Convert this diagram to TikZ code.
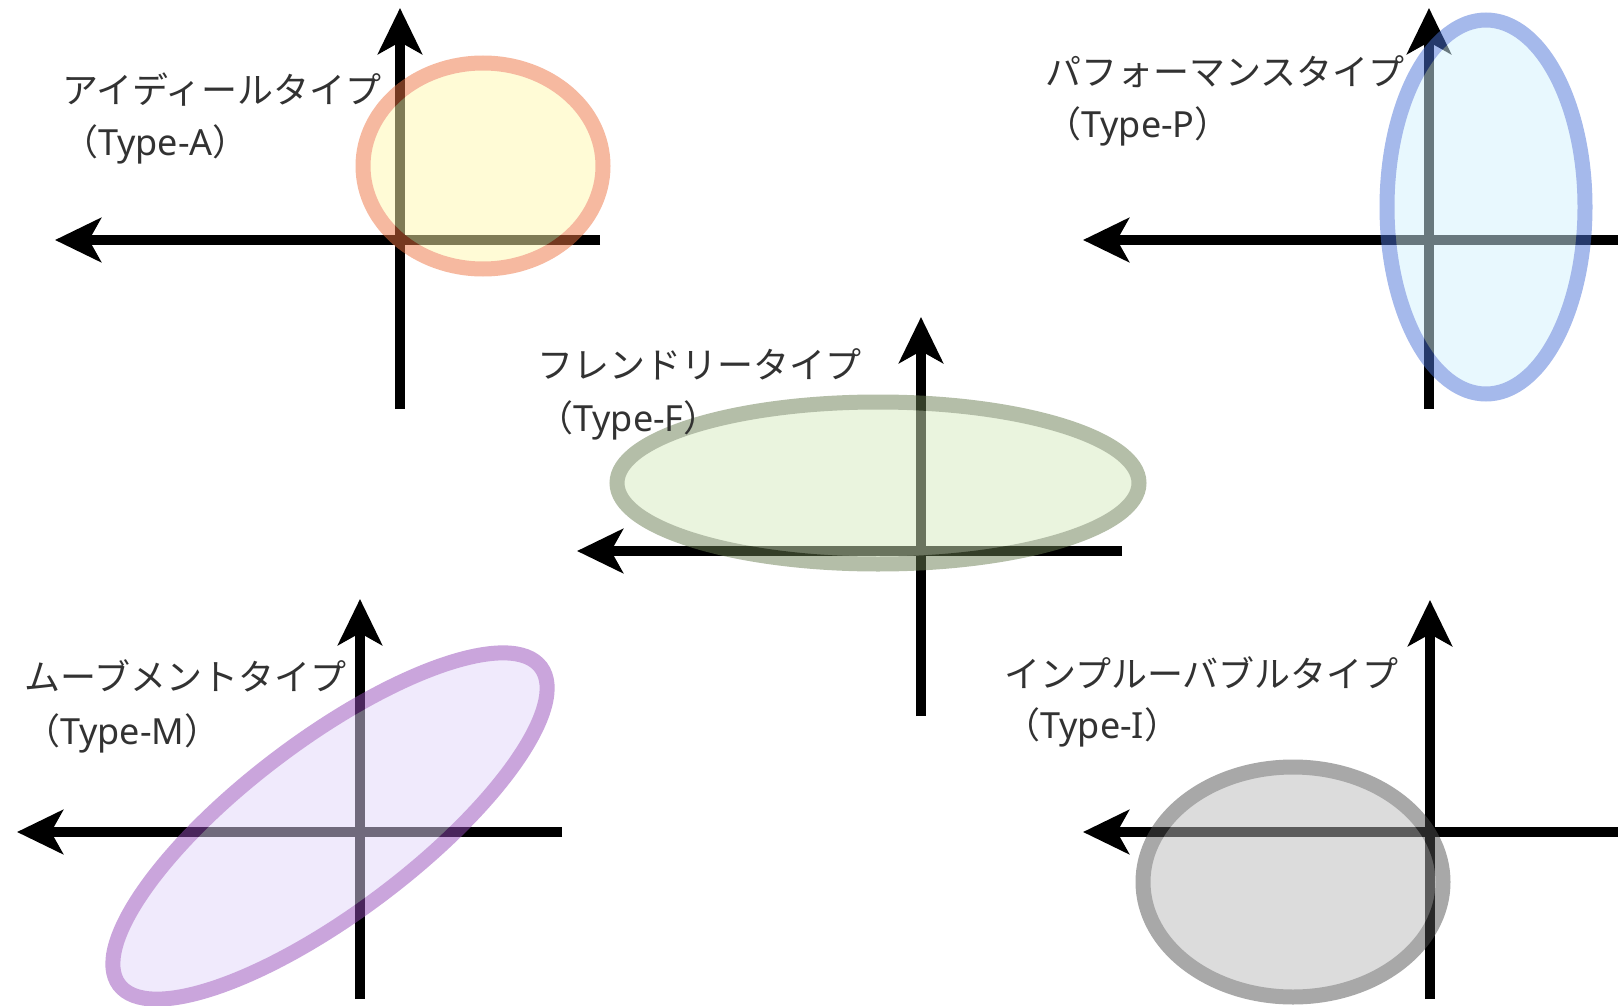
\documentclass[tikz,border=0pt]{standalone}
\usepackage{fontspec}
\newfontfamily\jpfont{Noto Sans CJK JP}
\newfontfamily\latinfont{Noto Sans}
\usetikzlibrary{arrows.meta}

% ring colours (drawn at half opacity)
\definecolor{ringA}{RGB}{237,115,65}
\definecolor{fillA}{RGB}{255,247,173}
\definecolor{ringP}{RGB}{75,115,215}
\definecolor{fillP}{RGB}{209,241,253}
\definecolor{ringF}{RGB}{105,125,81}
\definecolor{fillF}{RGB}{213,233,189}
\definecolor{ringM}{RGB}{149,75,185}
\definecolor{fillM}{RGB}{225,213,249}
\definecolor{ringI}{RGB}{81,81,81}
\definecolor{fillI}{RGB}{185,185,185}
\definecolor{labeltext}{RGB}{50,50,50}

\newcommand{\typecode}[1]{（{\latinfont Type-#1}）}

\tikzset{
  axisline/.style={line width=10pt, black, -{Stealth[length=46pt,width=44pt,inset=12pt]}},
  zone/.style={line width=15pt},
  lbl/.style={anchor=west, inner sep=0pt, text=labeltext, font=\jpfont\fontsize{36}{42}\selectfont},
}

\begin{document}
\begin{tikzpicture}[x=1pt,y=-1pt]
\useasboundingbox (0,0) rectangle (1618,1006);

% ---------- axes ----------
% Type-A
\coordinate (a-top) at (400,8);   \coordinate (a-bot) at (400,409);
\coordinate (a-left) at (55,240); \coordinate (a-right) at (600,240);
% Type-P
\coordinate (p-top) at (1429,8);   \coordinate (p-bot) at (1429,409);
\coordinate (p-left) at (1083,240); \coordinate (p-right) at (1618,240);
% Type-F
\coordinate (f-top) at (921,317);   \coordinate (f-bot) at (921,716);
\coordinate (f-left) at (577,551); \coordinate (f-right) at (1122,551);
% Type-M
\coordinate (m-top) at (360,599);   \coordinate (m-bot) at (360,999);
\coordinate (m-left) at (17,832); \coordinate (m-right) at (562,832);
% Type-I
\coordinate (i-top) at (1430,600);   \coordinate (i-bot) at (1430,999);
\coordinate (i-left) at (1083,832); \coordinate (i-right) at (1618,832);

\foreach \p in {a,p,f,m,i}{
  \draw[axisline] (\p-bot) -- (\p-top);
  \draw[axisline] (\p-right) -- (\p-left);
}

% ---------- type regions ----------
\begin{scope}[transparency group, opacity=0.5]
  \draw[zone, draw=ringA, fill=fillA] (483,166) ellipse [x radius=120, y radius=103];
\end{scope}
\begin{scope}[transparency group, opacity=0.5]
  \draw[zone, draw=ringP, fill=fillP] (1486,207) ellipse [x radius=99, y radius=187];
\end{scope}
\begin{scope}[transparency group, opacity=0.5]
  \draw[zone, draw=ringF, fill=fillF] (878,483) ellipse [x radius=261, y radius=81];
\end{scope}
\begin{scope}[transparency group, opacity=0.5]
  \draw[zone, draw=ringM, fill=fillM, shift={(330,826)}, rotate=37] (0,0) ellipse [x radius=264, y radius=86];
\end{scope}
\begin{scope}[transparency group, opacity=0.5]
  \draw[zone, draw=ringI, fill=fillI] (1293,882) ellipse [x radius=150, y radius=115];
\end{scope}

% ---------- labels ----------
\node[lbl] (a-name) at (62,90)  {アイディールタイプ};
\node[lbl] (a-code) at (62,144) {\typecode{A}};
\node[lbl] (p-name) at (1045,72)  {パフォーマンスタイプ};
\node[lbl] (p-code) at (1045,126) {\typecode{P}};
\node[lbl] (f-name) at (537,364) {フレンドリータイプ};
\node[lbl] (f-code) at (537,420) {\typecode{F}};
\node[lbl] (m-name) at (24,676) {ムーブメントタイプ};
\node[lbl] (m-code) at (24,733) {\typecode{M}};
\node[lbl] (i-name) at (1004,673) {インプルーバブルタイプ};
\node[lbl] (i-code) at (1004,727) {\typecode{I}};
\end{tikzpicture}
\end{document}
